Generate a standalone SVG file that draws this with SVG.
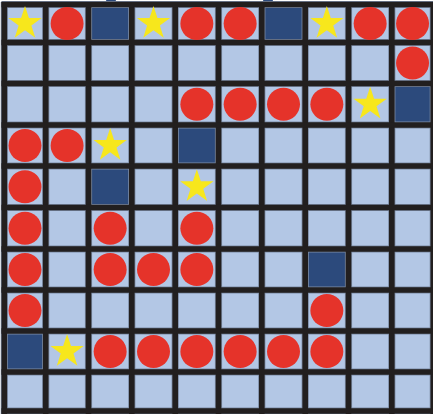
<svg xmlns="http://www.w3.org/2000/svg" xmlns:xlink="http://www.w3.org/1999/xlink" width="433" height="414" viewBox="0 0 433 414">
  <style>
    .bg { fill: #b3c7e5; }
    .wall { fill: #2c4a7c; }
    .edge { stroke: #7b8aa3; stroke-width: 7.2; fill: none; }
    .line { stroke: #221f1f; stroke-width: 5.6; fill: none; }
    .dot { fill: #e5332a; }
    .star { fill: #f7e71c; }
  </style>
  <defs>
    <circle id="dot" r="16.5" class="dot"/>
    <polygon id="star" class="star" points="0,-17.5 3.94,-5.42 16.64,-5.41 6.37,2.07 10.29,14.16 0,6.7 -10.29,14.16 -6.37,2.07 -16.64,-5.41 -3.94,-5.42"/>
  </defs>
  <rect x="0" y="0" width="433" height="414" fill="#ffffff"/>
  <rect x="1.5" y="2" width="432" height="412" class="bg"/>
  <g id="walls">
    <rect class="wall" x="88.5" y="4.5" width="43.3" height="38"/>
    <rect class="wall" x="261.8" y="4.5" width="43.4" height="38"/>
    <rect class="wall" x="391.8" y="83.5" width="41.5" height="41.5"/>
    <rect class="wall" x="175.2" y="125" width="43.3" height="41"/>
    <rect class="wall" x="88.5" y="166" width="43.3" height="41.5"/>
    <rect class="wall" x="305.2" y="249" width="43.3" height="41"/>
    <rect class="wall" x="4.3" y="331" width="41.4" height="41"/>
    <ellipse class="wall" cx="111" cy="0" rx="5" ry="2.5"/>
    <ellipse class="wall" cx="268" cy="0" rx="5" ry="2.5"/>
  </g>
  <g id="grid-edges" class="edge">
    <path d="M4.3,2V414M45.7,2V414M88.5,2V414M131.8,2V414M175.2,2V414M218.5,2V414M261.8,2V414M305.2,2V414M348.5,2V414M391.8,2V414M433.3,2V414"/>
    <path d="M1.5,4.5H433M1.5,42.5H433M1.5,83.5H433M1.5,125H433M1.5,166H433M1.5,207.5H433M1.5,249H433M1.5,290H433M1.5,331H433M1.5,372H433M1.5,411H433"/>
  </g>
  <g id="grid-lines" class="line">
    <path d="M4.3,2V414M45.7,2V414M88.5,2V414M131.8,2V414M175.2,2V414M218.5,2V414M261.8,2V414M305.2,2V414M348.5,2V414M391.8,2V414M433.3,2V414"/>
    <path d="M1.5,4.5H433M1.5,42.5H433M1.5,83.5H433M1.5,125H433M1.5,166H433M1.5,207.5H433M1.5,249H433M1.5,290H433M1.5,331H433M1.5,372H433M1.5,411H433"/>
  </g>
  <g id="dots">
    <use xlink:href="#dot" href="#dot" x="67.1" y="23.5"/>
    <use xlink:href="#dot" href="#dot" x="196.85" y="23.5"/>
    <use xlink:href="#dot" href="#dot" x="240.15" y="23.5"/>
    <use xlink:href="#dot" href="#dot" x="370.15" y="23.5"/>
    <use xlink:href="#dot" href="#dot" x="412.55" y="23.5"/>
    <use xlink:href="#dot" href="#dot" x="412.55" y="63"/>
    <use xlink:href="#dot" href="#dot" x="196.85" y="104.25"/>
    <use xlink:href="#dot" href="#dot" x="240.15" y="104.25"/>
    <use xlink:href="#dot" href="#dot" x="283.5" y="104.25"/>
    <use xlink:href="#dot" href="#dot" x="326.85" y="104.25"/>
    <use xlink:href="#dot" href="#dot" x="25" y="145.5"/>
    <use xlink:href="#dot" href="#dot" x="67.1" y="145.5"/>
    <use xlink:href="#dot" href="#dot" x="25" y="186.75"/>
    <use xlink:href="#dot" href="#dot" x="25" y="228.25"/>
    <use xlink:href="#dot" href="#dot" x="110.15" y="228.25"/>
    <use xlink:href="#dot" href="#dot" x="196.85" y="228.25"/>
    <use xlink:href="#dot" href="#dot" x="25" y="269.5"/>
    <use xlink:href="#dot" href="#dot" x="110.15" y="269.5"/>
    <use xlink:href="#dot" href="#dot" x="153.5" y="269.5"/>
    <use xlink:href="#dot" href="#dot" x="196.85" y="269.5"/>
    <use xlink:href="#dot" href="#dot" x="25" y="310.5"/>
    <use xlink:href="#dot" href="#dot" x="326.85" y="310.5"/>
    <use xlink:href="#dot" href="#dot" x="110.15" y="351.5"/>
    <use xlink:href="#dot" href="#dot" x="153.5" y="351.5"/>
    <use xlink:href="#dot" href="#dot" x="196.85" y="351.5"/>
    <use xlink:href="#dot" href="#dot" x="240.15" y="351.5"/>
    <use xlink:href="#dot" href="#dot" x="283.5" y="351.5"/>
    <use xlink:href="#dot" href="#dot" x="326.85" y="351.5"/>
  </g>
  <g id="stars">
    <use xlink:href="#star" href="#star" x="25" y="23.5"/>
    <use xlink:href="#star" href="#star" x="153.5" y="23.5"/>
    <use xlink:href="#star" href="#star" x="326.85" y="23.5"/>
    <use xlink:href="#star" href="#star" x="370.15" y="104.25"/>
    <use xlink:href="#star" href="#star" x="110.15" y="145.5"/>
    <use xlink:href="#star" href="#star" x="196.85" y="186.75"/>
    <use xlink:href="#star" href="#star" x="67.1" y="351.5"/>
  </g>
</svg>
